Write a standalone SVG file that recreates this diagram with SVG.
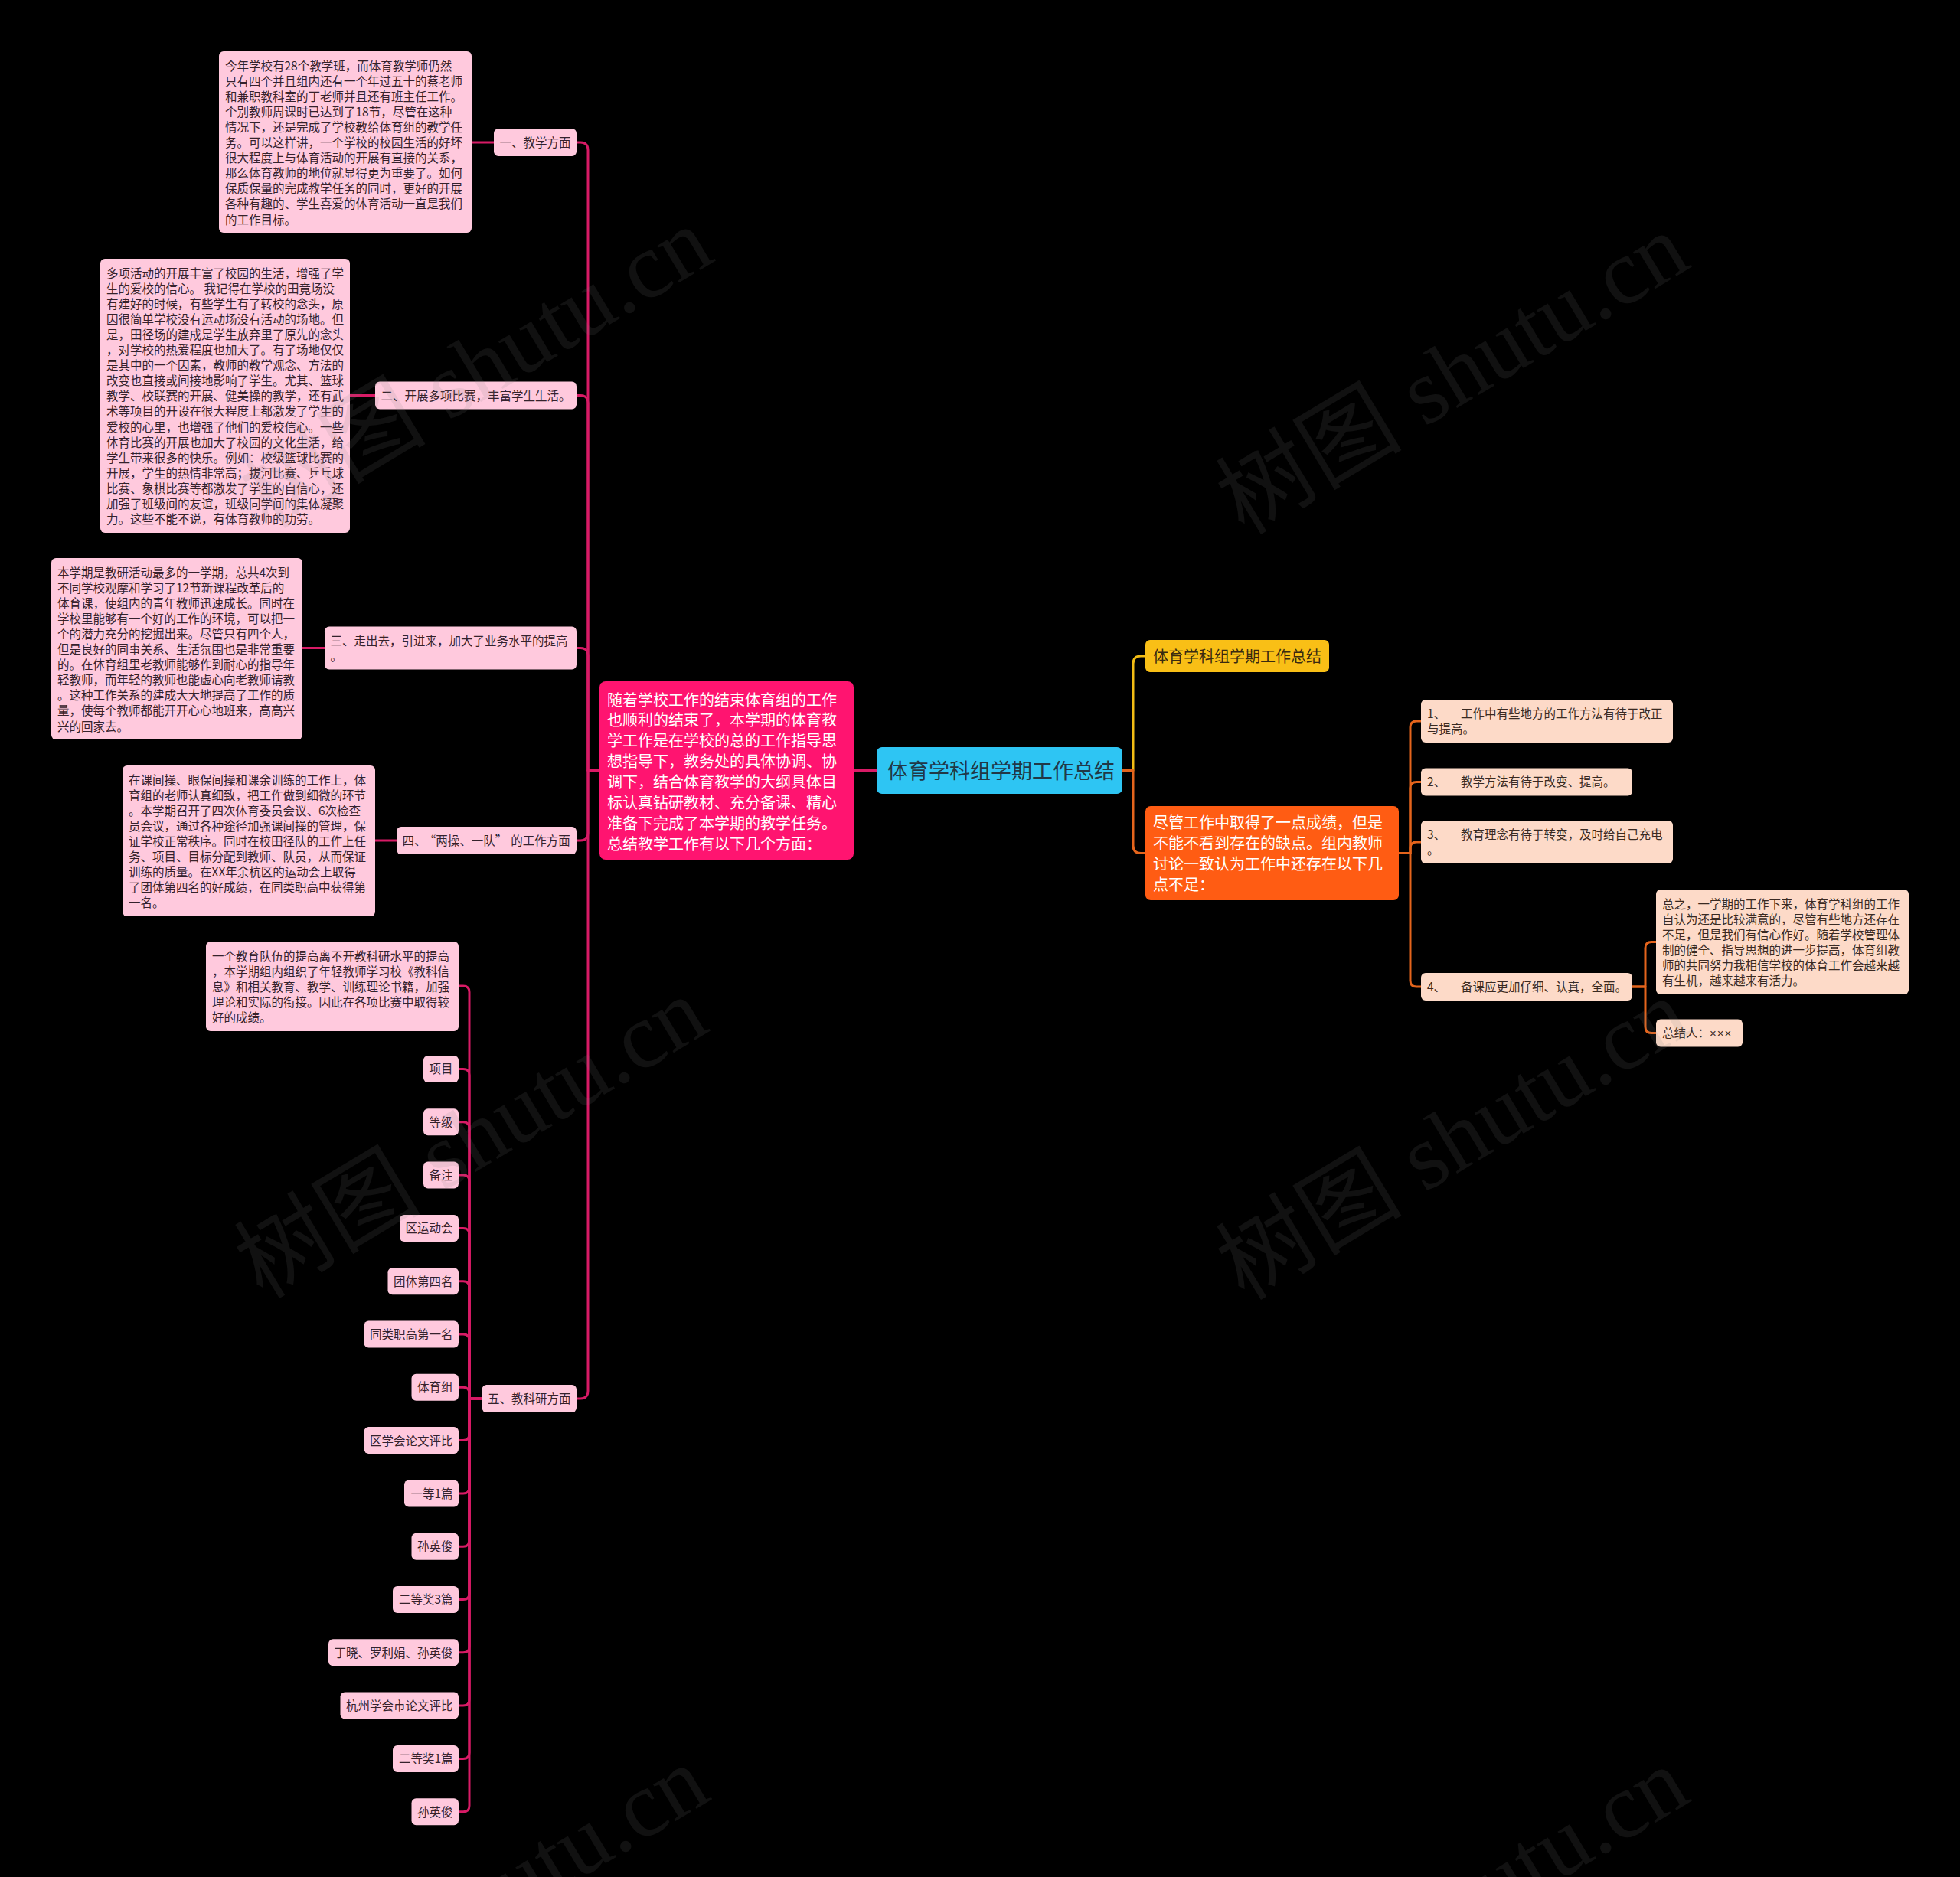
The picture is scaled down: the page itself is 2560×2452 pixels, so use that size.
<svg xmlns="http://www.w3.org/2000/svg" width="2560" height="2452" viewBox="0 0 2560 2452">
<style>
.bg{fill:#000}
.lp{fill:#FFC9DD}
.rp{fill:#FDDAC8}
.t{font-family:"Noto Sans CJK SC","Microsoft YaHei",sans-serif;font-size:15.5px;fill:#35222C}
.tr{font-family:"Noto Sans CJK SC",sans-serif;font-size:15.5px;fill:#3A2A22}
.big{font-family:"Noto Sans CJK SC",sans-serif;font-size:20px}
.cl{fill:none;stroke:#D81B66;stroke-width:3;stroke-linejoin:round}
.co{fill:none;stroke:#E4641C;stroke-width:3;stroke-linejoin:round}
.cy{fill:none;stroke:#F2BC14;stroke-width:3;stroke-linejoin:round}
.wm{font-family:"Liberation Serif","Noto Sans CJK SC",serif;font-size:122px;fill:#808080;opacity:0.13}
</style>
<rect class="bg" x="0" y="0" width="2560" height="2452"/>

<g id="connectors">
<path class="cl" d="M1145 1006.5H1115"/>
<path class="cl" d="M783 1006.5H768V196Q768 186 758 186H753"/>
<path class="cl" d="M783 1006.5H768V526.5Q768 516.5 758 516.5H753"/>
<path class="cl" d="M783 1006.5H768V856.5Q768 846.5 758 846.5H753"/>
<path class="cl" d="M783 1006.5H768V1088Q768 1098 758 1098H753"/>
<path class="cl" d="M783 1006.5H768V1817Q768 1827 758 1827H752"/>
<path class="cl" d="M616 186H645"/>
<path class="cl" d="M457 516.5H490"/>
<path class="cl" d="M395 846.5H424"/>
<path class="cl" d="M490 1098H518"/>
<path class="cl" d="M629.5 1827H613V1296Q613 1288 605 1288H599"/>
<path class="cl" d="M629.5 1827H613V1404.5Q613 1396.5 605 1396.5H599"/>
<path class="cl" d="M629.5 1827H613V1473.8Q613 1465.8 605 1465.8H599"/>
<path class="cl" d="M629.5 1827H613V1543.1Q613 1535.1 605 1535.1H599"/>
<path class="cl" d="M629.5 1827H613V1612.4Q613 1604.4 605 1604.4H599"/>
<path class="cl" d="M629.5 1827H613V1681.7Q613 1673.7 605 1673.7H599"/>
<path class="cl" d="M629.5 1827H613V1751Q613 1743 605 1743H599"/>
<path class="cl" d="M629.5 1827H613V1820.3Q613 1812.3 605 1812.3H599"/>
<path class="cl" d="M629.5 1827H613V1873.6Q613 1881.6 605 1881.6H599"/>
<path class="cl" d="M629.5 1827H613V1942.9Q613 1950.9 605 1950.9H599"/>
<path class="cl" d="M629.5 1827H613V2012.2Q613 2020.2 605 2020.2H599"/>
<path class="cl" d="M629.5 1827H613V2081.5Q613 2089.5 605 2089.5H599"/>
<path class="cl" d="M629.5 1827H613V2150.8Q613 2158.8 605 2158.8H599"/>
<path class="cl" d="M629.5 1827H613V2220.1Q613 2228.1 605 2228.1H599"/>
<path class="cl" d="M629.5 1827H613V2289.4Q613 2297.4 605 2297.4H599"/>
<path class="cl" d="M629.5 1827H613V2358.7Q613 2366.7 605 2366.7H599"/>
<path class="cy" d="M1466 1006.5H1480V867Q1480 857 1490 857H1496"/>
<path class="co" d="M1466 1006.5H1480V1104.5Q1480 1114.5 1490 1114.5H1496"/>
<path class="co" d="M1827 1114.5H1842V950Q1842 942 1850 942H1856"/>
<path class="co" d="M1827 1114.5H1842V1029.5Q1842 1021.5 1850 1021.5H1856"/>
<path class="co" d="M1827 1114.5H1842V1108Q1842 1100 1850 1100H1856"/>
<path class="co" d="M1827 1114.5H1842V1281Q1842 1289 1850 1289H1856"/>
<path class="co" d="M2132 1289H2149V1238.5Q2149 1230.5 2157 1230.5H2163"/>
<path class="co" d="M2132 1289H2149V1341.5Q2149 1349.5 2157 1349.5H2163"/>
</g>

<g id="root">
<rect x="1145" y="976" width="321" height="61" rx="7" fill="#2EC5F3"/>
<text x="1159" y="1016.5" font-family="Noto Sans CJK SC, sans-serif" font-size="27" fill="#213847">体育学科组学期工作总结</text>
</g>

<g id="intro">
<rect x="783" y="890" width="332" height="233" rx="8" fill="#FF1470"/>
<text class="big" fill="#FFFFFF" x="793" y="921.5"><tspan x="793">随着学校工作的结束体育组的工作</tspan><tspan x="793" dy="26.9">也顺利的结束了，本学期的体育教</tspan><tspan x="793" dy="26.9">学工作是在学校的总的工作指导思</tspan><tspan x="793" dy="26.9">想指导下，教务处的具体协调、协</tspan><tspan x="793" dy="26.9">调下，结合体育教学的大纲具体目</tspan><tspan x="793" dy="26.9">标认真钻研教材、充分备课、精心</tspan><tspan x="793" dy="26.9">准备下完成了本学期的教学任务。</tspan><tspan x="793" dy="26.9">总结教学工作有以下几个方面：</tspan></text>
</g>

<g id="n1">
<rect class="lp" x="645" y="168" width="108" height="36" rx="6"/>
<text class="t" x="652.5" y="192">一、教学方面</text>
</g>
<g id="n1-detail">
<rect class="lp" x="286" y="67" width="330" height="237" rx="6"/>
<text class="t" x="294" y="91.5"><tspan x="294">今年学校有28个教学班，而体育教学师仍然</tspan><tspan x="294" dy="20.1">只有四个并且组内还有一个年过五十的蔡老师</tspan><tspan x="294" dy="20.1">和兼职教科室的丁老师并且还有班主任工作。</tspan><tspan x="294" dy="20.1">个别教师周课时已达到了18节，尽管在这种</tspan><tspan x="294" dy="20.1">情况下，还是完成了学校教给体育组的教学任</tspan><tspan x="294" dy="20.1">务。可以这样讲，一个学校的校园生活的好坏</tspan><tspan x="294" dy="20.1">很大程度上与体育活动的开展有直接的关系，</tspan><tspan x="294" dy="20.1">那么体育教师的地位就显得更为重要了。如何</tspan><tspan x="294" dy="20.1">保质保量的完成教学任务的同时，更好的开展</tspan><tspan x="294" dy="20.1">各种有趣的、学生喜爱的体育活动一直是我们</tspan><tspan x="294" dy="20.1">的工作目标。</tspan></text>
</g>

<g id="n2">
<rect class="lp" x="490" y="498.5" width="263" height="36" rx="6"/>
<text class="t" x="497.5" y="522.5">二、开展多项比赛，丰富学生生活。</text>
</g>
<g id="n2-detail">
<rect class="lp" x="131" y="338" width="326" height="358" rx="6"/>
<text class="t" x="139" y="362.5"><tspan x="139">多项活动的开展丰富了校园的生活，增强了学</tspan><tspan x="139" dy="20.1">生的爱校的信心。 我记得在学校的田竟场没</tspan><tspan x="139" dy="20.1">有建好的时候，有些学生有了转校的念头，原</tspan><tspan x="139" dy="20.1">因很简单学校没有运动场没有活动的场地。但</tspan><tspan x="139" dy="20.1">是，田径场的建成是学生放弃里了原先的念头</tspan><tspan x="139" dy="20.1">，对学校的热爱程度也加大了。有了场地仅仅</tspan><tspan x="139" dy="20.1">是其中的一个因素，教师的教学观念、方法的</tspan><tspan x="139" dy="20.1">改变也直接或间接地影响了学生。尤其、篮球</tspan><tspan x="139" dy="20.1">教学、校联赛的开展、健美操的教学，还有武</tspan><tspan x="139" dy="20.1">术等项目的开设在很大程度上都激发了学生的</tspan><tspan x="139" dy="20.1">爱校的心里，也增强了他们的爱校信心。一些</tspan><tspan x="139" dy="20.1">体育比赛的开展也加大了校园的文化生活，给</tspan><tspan x="139" dy="20.1">学生带来很多的快乐。例如：校级篮球比赛的</tspan><tspan x="139" dy="20.1">开展，学生的热情非常高；拔河比赛、乒乓球</tspan><tspan x="139" dy="20.1">比赛、象棋比赛等都激发了学生的自信心，还</tspan><tspan x="139" dy="20.1">加强了班级间的友谊，班级同学间的集体凝聚</tspan><tspan x="139" dy="20.1">力。这些不能不说，有体育教师的功劳。</tspan></text>
</g>

<g id="n3">
<rect class="lp" x="424" y="818.5" width="329" height="56" rx="6"/>
<text class="t" x="431.5" y="842.5"><tspan x="431.5">三、走出去，引进来，加大了业务水平的提高</tspan><tspan x="431.5" dy="20.1">。</tspan></text>
</g>
<g id="n3-detail">
<rect class="lp" x="67" y="729" width="328" height="237" rx="6"/>
<text class="t" x="75" y="753.5"><tspan x="75">本学期是教研活动最多的一学期，总共4次到</tspan><tspan x="75" dy="20.1">不同学校观摩和学习了12节新课程改革后的</tspan><tspan x="75" dy="20.1">体育课，使组内的青年教师迅速成长。同时在</tspan><tspan x="75" dy="20.1">学校里能够有一个好的工作的环境，可以把一</tspan><tspan x="75" dy="20.1">个的潜力充分的挖掘出来。尽管只有四个人，</tspan><tspan x="75" dy="20.1">但是良好的同事关系、生活氛围也是非常重要</tspan><tspan x="75" dy="20.1">的。在体育组里老教师能够作到耐心的指导年</tspan><tspan x="75" dy="20.1">轻教师，而年轻的教师也能虚心向老教师请教</tspan><tspan x="75" dy="20.1">。这种工作关系的建成大大地提高了工作的质</tspan><tspan x="75" dy="20.1">量，使每个教师都能开开心心地班来，高高兴</tspan><tspan x="75" dy="20.1">兴的回家去。</tspan></text>
</g>

<g id="n4">
<rect class="lp" x="518" y="1080" width="235" height="36" rx="6"/>
<text class="t" x="525.5" y="1104">四、<tspan dx="5">“</tspan>两操、一队”<tspan dx="5">的</tspan>工作方面</text>
</g>
<g id="n4-detail">
<rect class="lp" x="160" y="1000" width="330" height="197" rx="6"/>
<text class="t" x="168" y="1024.5"><tspan x="168">在课间操、眼保间操和课余训练的工作上，体</tspan><tspan x="168" dy="20.1">育组的老师认真细致，把工作做到细微的环节</tspan><tspan x="168" dy="20.1">。本学期召开了四次体育委员会议、6次检查</tspan><tspan x="168" dy="20.1">员会议，通过各种途径加强课间操的管理，保</tspan><tspan x="168" dy="20.1">证学校正常秩序。同时在校田径队的工作上任</tspan><tspan x="168" dy="20.1">务、项目、目标分配到教师、队员，从而保证</tspan><tspan x="168" dy="20.1">训练的质量。在XX年余杭区的运动会上取得</tspan><tspan x="168" dy="20.1">了团体第四名的好成绩，在同类职高中获得第</tspan><tspan x="168" dy="20.1">一名。</tspan></text>
</g>

<g id="n5">
<rect class="lp" x="629.5" y="1809" width="123.5" height="36" rx="6"/>
<text class="t" x="637" y="1833">五、教科研方面</text>
</g>
<g id="n5-detail">
<rect class="lp" x="269" y="1230" width="330" height="117" rx="6"/>
<text class="t" x="277" y="1254.5"><tspan x="277">一个教育队伍的提高离不开教科研水平的提高</tspan><tspan x="277" dy="20.1">，本学期组内组织了年轻教师学习校《教科信</tspan><tspan x="277" dy="20.1">息》和相关教育、教学、训练理论书籍，加强</tspan><tspan x="277" dy="20.1">理论和实际的衔接。因此在各项比赛中取得较</tspan><tspan x="277" dy="20.1">好的成绩。</tspan></text>
</g>

<g id="n5-leaves">
<g id="leaf1"><rect class="lp" x="553" y="1379" width="46" height="35" rx="6"/><text class="t" x="591.5" y="1402.4" text-anchor="end">项目</text></g>
<g id="leaf2"><rect class="lp" x="553" y="1448.3" width="46" height="35" rx="6"/><text class="t" x="591.5" y="1471.7" text-anchor="end">等级</text></g>
<g id="leaf3"><rect class="lp" x="553" y="1517.6" width="46" height="35" rx="6"/><text class="t" x="591.5" y="1541" text-anchor="end">备注</text></g>
<g id="leaf4"><rect class="lp" x="522" y="1586.9" width="77" height="35" rx="6"/><text class="t" x="591.5" y="1610.3" text-anchor="end">区运动会</text></g>
<g id="leaf5"><rect class="lp" x="506.5" y="1656.2" width="92.5" height="35" rx="6"/><text class="t" x="591.5" y="1679.6" text-anchor="end">团体第四名</text></g>
<g id="leaf6"><rect class="lp" x="475.5" y="1725.5" width="123.5" height="35" rx="6"/><text class="t" x="591.5" y="1748.9" text-anchor="end">同类职高第一名</text></g>
<g id="leaf7"><rect class="lp" x="537.5" y="1794.8" width="61.5" height="35" rx="6"/><text class="t" x="591.5" y="1818.2" text-anchor="end">体育组</text></g>
<g id="leaf8"><rect class="lp" x="475.5" y="1864.1" width="123.5" height="35" rx="6"/><text class="t" x="591.5" y="1887.5" text-anchor="end">区学会论文评比</text></g>
<g id="leaf9"><rect class="lp" x="528" y="1933.4" width="71" height="35" rx="6"/><text class="t" x="591.5" y="1956.8" text-anchor="end">一等1篇</text></g>
<g id="leaf10"><rect class="lp" x="537.5" y="2002.7" width="61.5" height="35" rx="6"/><text class="t" x="591.5" y="2026.1" text-anchor="end">孙英俊</text></g>
<g id="leaf11"><rect class="lp" x="513" y="2072" width="86" height="35" rx="6"/><text class="t" x="591.5" y="2095.4" text-anchor="end">二等奖3篇</text></g>
<g id="leaf12"><rect class="lp" x="429" y="2141.3" width="170" height="35" rx="6"/><text class="t" x="591.5" y="2164.7" text-anchor="end">丁晓、罗利娟、孙英俊</text></g>
<g id="leaf13"><rect class="lp" x="444.5" y="2210.6" width="154.5" height="35" rx="6"/><text class="t" x="591.5" y="2234" text-anchor="end">杭州学会市论文评比</text></g>
<g id="leaf14"><rect class="lp" x="513" y="2279.9" width="86" height="35" rx="6"/><text class="t" x="591.5" y="2303.3" text-anchor="end">二等奖1篇</text></g>
<g id="leaf15"><rect class="lp" x="537.5" y="2349.2" width="61.5" height="35" rx="6"/><text class="t" x="591.5" y="2372.6" text-anchor="end">孙英俊</text></g>
</g>

<g id="title2">
<rect x="1496" y="836" width="240" height="42" rx="6" fill="#F9BF16"/>
<text class="big" fill="#3A2A10" x="1506" y="864.6">体育学科组学期工作总结</text>
</g>

<g id="shortcomings">
<rect x="1496" y="1053" width="331" height="123" rx="7" fill="#FF5C13"/>
<text class="big" fill="#FFFFFF" x="1506" y="1082"><tspan x="1506">尽管工作中取得了一点成绩，但是</tspan><tspan x="1506" dy="26.9">不能不看到存在的缺点。组内教师</tspan><tspan x="1506" dy="26.9">讨论一致认为工作中还存在以下几</tspan><tspan x="1506" dy="26.9">点不足：</tspan></text>
</g>

<g id="s1">
<rect class="rp" x="1856" y="914" width="329" height="56" rx="6"/>
<text class="tr" x="1864" y="938" xml:space="preserve"><tspan x="1864">1、    </tspan><tspan x="1908">工作中有些地方的工作方法有待于改正</tspan><tspan x="1864" dy="20.1">与提高。</tspan></text>
</g>
<g id="s2">
<rect class="rp" x="1856" y="1003.5" width="276" height="36" rx="6"/>
<text class="tr" x="1864" y="1027.4" xml:space="preserve"><tspan x="1864">2、    </tspan><tspan x="1908">教学方法有待于改变、提高。</tspan></text>
</g>
<g id="s3">
<rect class="rp" x="1856" y="1072" width="329" height="56" rx="6"/>
<text class="tr" x="1864" y="1096" xml:space="preserve"><tspan x="1864">3、    </tspan><tspan x="1908">教育理念有待于转变，及时给自己充电</tspan><tspan x="1864" dy="20.1">。</tspan></text>
</g>
<g id="s4">
<rect class="rp" x="1856" y="1271" width="276" height="36" rx="6"/>
<text class="tr" x="1864" y="1294.9" xml:space="preserve"><tspan x="1864">4、    </tspan><tspan x="1908">备课应更加仔细、认真，全面。</tspan></text>
</g>
<g id="s4-summary">
<rect class="rp" x="2163" y="1162" width="330" height="137" rx="6"/>
<text class="tr" x="2171" y="1186.5"><tspan x="2171">总之，一学期的工作下来，体育学科组的工作</tspan><tspan x="2171" dy="20.1">自认为还是比较满意的，尽管有些地方还存在</tspan><tspan x="2171" dy="20.1">不足，但是我们有信心作好。随着学校管理体</tspan><tspan x="2171" dy="20.1">制的健全、指导思想的进一步提高，体育组教</tspan><tspan x="2171" dy="20.1">师的共同努力我相信学校的体育工作会越来越</tspan><tspan x="2171" dy="20.1">有生机，越来越来有活力。</tspan></text>
</g>
<g id="s4-author">
<rect class="rp" x="2163" y="1331.5" width="113" height="36" rx="6"/>
<text class="tr" x="2171" y="1355.4">总结人：<tspan font-family="Liberation Sans, sans-serif" font-size="15" letter-spacing="1">×××</tspan></text>
</g>

<g id="watermarks">
<text class="wm" transform="translate(350 692) rotate(-31)">树图 shutu.cn</text>
<text class="wm" transform="translate(1625 700) rotate(-31)">树图 shutu.cn</text>
<text class="wm" transform="translate(343 1698) rotate(-31)">树图 shutu.cn</text>
<text class="wm" transform="translate(1625 1700) rotate(-31)">树图 shutu.cn</text>
<text class="wm" transform="translate(345 2702) rotate(-31)">树图 shutu.cn</text>
<text class="wm" transform="translate(1625 2704) rotate(-31)">树图 shutu.cn</text>
</g>
</svg>
